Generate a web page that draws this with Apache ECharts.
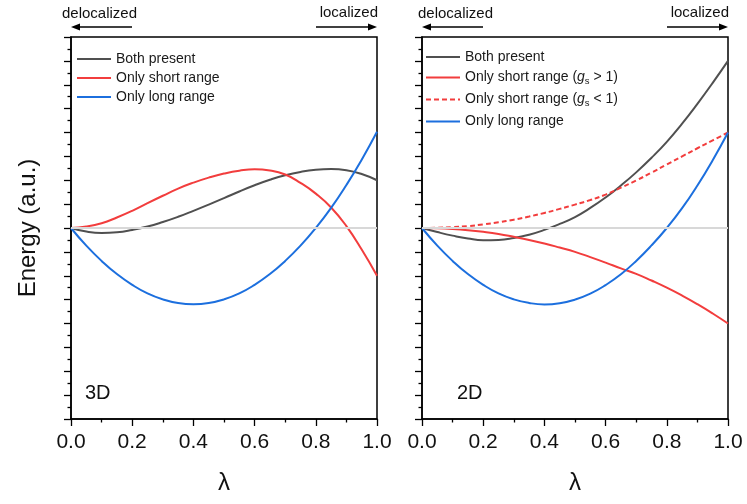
<!DOCTYPE html>
<html>
<head>
<meta charset="utf-8">
<script src="https://cdn.jsdelivr.net/npm/echarts@6/dist/echarts.min.js"></script>
<style>
  html, body { margin: 0; padding: 0; background: #fff; }
  #chart { width: 747px; height: 504px; }
</style>
</head>
<body>
<div id="chart"></div>
<script>
// λ sampling points shared by every curve
const lambda = [0, 0.05, 0.1, 0.15, 0.2, 0.25, 0.3, 0.35, 0.4, 0.45, 0.5,
                0.55, 0.6, 0.65, 0.7, 0.75, 0.8, 0.85, 0.9, 0.95, 1.0];

// 3D panel energies (a.u.)
const both3D  = [0, -0.15, -0.21, -0.18, -0.08, 0.06, 0.25, 0.47, 0.72, 0.98, 1.25,
                 1.53, 1.79, 2.02, 2.21, 2.35, 2.44, 2.47, 2.42, 2.26, 2.0];
const short3D = [0, 0.06, 0.2, 0.44, 0.72, 1.04, 1.35, 1.65, 1.9, 2.11, 2.28,
                 2.4, 2.46, 2.41, 2.24, 1.89, 1.44, 0.86, 0.08, -0.9, -2.0];
const long3D  = [0, -0.74, -1.38, -1.93, -2.38, -2.74, -2.99, -3.14, -3.19, -3.14, -2.99,
                 -2.74, -2.38, -1.93, -1.38, -0.74, 0, 0.84, 1.8, 2.86, 4.03];

// 2D panel energies (a.u.)
const both2D     = [0, -0.17, -0.32, -0.44, -0.51, -0.5, -0.42, -0.28, -0.08, 0.17, 0.46,
                    0.84, 1.28, 1.78, 2.33, 2.94, 3.61, 4.37, 5.2, 6.08, 7.0];
const shortGt2D  = [0, -0.01, -0.04, -0.09, -0.16, -0.25, -0.37, -0.5, -0.65, -0.82, -1.0,
                    -1.22, -1.45, -1.69, -1.92, -2.2, -2.5, -2.83, -3.19, -3.58, -4.0];
const shortLt2D  = [0, 0.01, 0.035, 0.08, 0.15, 0.24, 0.35, 0.48, 0.63, 0.8, 0.98,
                    1.17, 1.4, 1.69, 1.99, 2.32, 2.66, 3.0, 3.34, 3.67, 4.0];
const long2D     = [0, -0.74, -1.38, -1.93, -2.38, -2.74, -2.99, -3.14, -3.2, -3.15, -3.0,
                    -2.75, -2.39, -1.94, -1.38, -0.73, 0, 0.83, 1.78, 2.84, 4.0];

// axis ticks
const xTicks = [0.0, 0.2, 0.4, 0.6, 0.8, 1.0];
const yRange = [-8, 8];

// series names
const NAME_BOTH = 'Both present';
const NAME_SHORT = 'Only short range';
const NAME_SHORT_GT = 'Only short range (gs > 1)';
const NAME_SHORT_LT = 'Only short range (gs < 1)';
const NAME_LONG = 'Only long range';

const FONT = '"Liberation Sans", Arial, Helvetica, sans-serif';
const C_BLACK = '#505050';
const C_RED = '#f23d3d';
const C_BLUE = '#1c6fde';

const GRIDS = [
  { left: 71, top: 37, width: 306, height: 382 },
  { left: 422, top: 37, width: 306, height: 382 }
];

const pairs = (ys) => lambda.map((x, i) => [x, ys[i]]);

function xAxis(idx) {
  return {
    type: 'value', gridIndex: idx, min: xTicks[0], max: xTicks[xTicks.length - 1],
    interval: xTicks[1] - xTicks[0],
    name: 'λ', nameLocation: 'middle', nameGap: 52,
    nameTextStyle: { fontFamily: FONT, fontSize: 24, color: '#111' },
    axisLine: { show: true, onZero: false, lineStyle: { color: '#000', width: 1.5 } },
    axisTick: { show: true, inside: false, length: 7, lineStyle: { color: '#000', width: 1.3 } },
    minorTick: { show: true, splitNumber: 2, length: 3.5, lineStyle: { color: '#000', width: 1.3 } },
    splitLine: { show: false },
    axisLabel: {
      fontFamily: FONT, fontSize: 21, color: '#111', margin: 13,
      formatter: (v) => v.toFixed(1)
    }
  };
}

function yAxis(idx, name) {
  return {
    type: 'value', gridIndex: idx, min: yRange[0], max: yRange[1], interval: 1,
    name: name, nameLocation: 'middle', nameGap: 31,
    nameTextStyle: { fontFamily: FONT, fontSize: 24, color: '#111' },
    axisLine: { show: true, onZero: false, lineStyle: { color: '#000', width: 1.5 } },
    axisTick: { show: true, inside: false, length: 7, lineStyle: { color: '#000', width: 1.3 } },
    minorTick: { show: true, splitNumber: 2, length: 3.5, lineStyle: { color: '#000', width: 1.3 } },
    splitLine: { show: false },
    axisLabel: { show: false }
  };
}

function curve(name, idx, ys, color, dashed) {
  return {
    type: 'line', name: name, xAxisIndex: idx, yAxisIndex: idx,
    data: pairs(ys), smooth: true, symbol: 'none', z: 3,
    lineStyle: { color: color, width: 2, type: dashed ? [5, 3] : 'solid' },
    itemStyle: { color: color }
  };
}

function zeroLine(idx) {
  return {
    type: 'line', xAxisIndex: idx, yAxisIndex: idx, data: [], z: 1,
    markLine: {
      silent: true, symbol: 'none', label: { show: false },
      lineStyle: { color: '#d8d8d8', width: 2, type: 'solid' },
      data: [{ yAxis: 0 }]
    }
  };
}

const legendRich = {
  n: { fontFamily: FONT, fontSize: 14, color: '#1a1a1a' },
  i: { fontFamily: FONT, fontSize: 14, color: '#1a1a1a', fontStyle: 'italic' },
  s: { fontFamily: FONT, fontSize: 9.5, color: '#1a1a1a', padding: [7, 0, 0, 0] }
};

function legendText(name) {
  if (name === NAME_SHORT_GT) return '{n|Only short range (}{i|g}{s|s}{n| > 1)}';
  if (name === NAME_SHORT_LT) return '{n|Only short range (}{i|g}{s|s}{n| < 1)}';
  return '{n|' + name + '}';
}

function arrow(x1, x2, y) {
  const dir = x2 > x1 ? 1 : -1;
  const headLen = 9, headHalf = 3.5;
  return {
    type: 'group', children: [
      { type: 'line', shape: { x1: x1, y1: y, x2: x2 - dir * headLen * 0.6, y2: y },
        style: { stroke: '#000', lineWidth: 1.3 } },
      { type: 'polygon',
        shape: { points: [[x2, y], [x2 - dir * headLen, y - headHalf], [x2 - dir * headLen, y + headHalf]] },
        style: { fill: '#000' } }
    ]
  };
}

function caption(text, x, y, align, size) {
  return {
    type: 'text', x: x, y: y,
    style: { text: text, fontFamily: FONT, fontSize: size, fill: '#111',
             textAlign: align, textVerticalAlign: 'middle' }
  };
}

const graphics = [];
GRIDS.forEach((g, i) => {
  const x0 = g.left, x1 = g.left + g.width;
  graphics.push(caption('delocalized', x0 - 9 + (i ? 5 : 0), 14, 'left', 15));
  graphics.push(arrow(x0 + 61, x0, 27));
  graphics.push(caption('localized', x1 + 1, 13, 'right', 15));
  graphics.push(arrow(x1 - 61, x1, 27));
  graphics.push(caption(i ? '2D' : '3D', x0 + (i ? 35 : 14), 393, 'left', 20));
});

const legendCommon = {
  orient: 'vertical', padding: 0, itemWidth: 34, itemHeight: 12,
  selectedMode: false, formatter: legendText,
  itemStyle: { opacity: 0, borderWidth: 0 },
  textStyle: { rich: legendRich, fontSize: 14 }
};

const chart = echarts.init(document.getElementById('chart'), null, { renderer: 'canvas' });
chart.setOption({
  animation: false,
  backgroundColor: '#fff',
  textStyle: { fontFamily: FONT },
  grid: GRIDS.map(g => Object.assign({ show: true, borderColor: '#000', borderWidth: 1.5,
                                        backgroundColor: 'transparent' }, g)),
  xAxis: [xAxis(0), xAxis(1)],
  yAxis: [yAxis(0, 'Energy (a.u.)'), yAxis(1, '')],
  legend: [
    Object.assign({}, legendCommon, {
      left: 76, top: 52, itemGap: 5,
      data: [NAME_BOTH, NAME_SHORT, NAME_LONG]
    }),
    Object.assign({}, legendCommon, {
      left: 425, top: 50, itemGap: 6.5,
      data: [NAME_BOTH, NAME_SHORT_GT, NAME_SHORT_LT, NAME_LONG]
    })
  ],
  series: [
    zeroLine(0),
    curve(NAME_BOTH, 0, both3D, C_BLACK),
    curve(NAME_SHORT, 0, short3D, C_RED),
    curve(NAME_LONG, 0, long3D, C_BLUE),
    zeroLine(1),
    curve(NAME_BOTH, 1, both2D, C_BLACK),
    curve(NAME_SHORT_GT, 1, shortGt2D, C_RED),
    curve(NAME_SHORT_LT, 1, shortLt2D, C_RED, true),
    curve(NAME_LONG, 1, long2D, C_BLUE)
  ],
  graphic: graphics
});
</script>
</body>
</html>
